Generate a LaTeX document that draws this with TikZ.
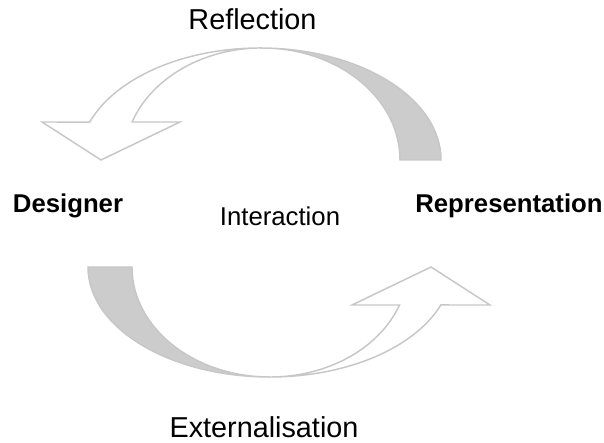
\documentclass[tikz,border=0pt]{standalone}
\usepackage{fontspec}
\setmainfont{Liberation Sans}
\begin{document}
\begin{tikzpicture}[x=0.75pt,y=0.75pt,
  band/.style={draw=black!22,line width=1.1pt,line join=miter,fill=black!20},
  front/.style={draw=black!22,line width=1.1pt,line join=miter,fill=white},
  lbl/.style={inner sep=0pt,anchor=base,text=black},
  bigfont/.style={font=\fontsize{21.6}{24}\selectfont},
  midfont/.style={font=\fontsize{19.3}{22}\selectfont}]
\useasboundingbox (0,0) rectangle (604,443);

% upper curved arrow: shaded back band, then the white arrow body
\path[band] (441,283) arc[start angle=0,end angle=90,x radius=181,y radius=112]
  -- (262,395) arc[start angle=90,end angle=0,x radius=138,y radius=112] -- cycle;
\path[front] (260,395) arc[start angle=90,end angle=160.2,x radius=181,y radius=112]
  -- (42,321) -- (101,283) -- (180,321) -- (132.1,321)
  arc[start angle=160.2,end angle=90,x radius=138,y radius=112] -- cycle;

% lower curved arrow
\path[band] (88,176) arc[start angle=180,end angle=270,x radius=182,y radius=110]
  -- (270,66) arc[start angle=270,end angle=180,x radius=138,y radius=110] -- cycle;
\path[front] (270,66) arc[start angle=270,end angle=339.8,x radius=182,y radius=110]
  -- (490,138) -- (431,176) -- (352,138) -- (399.5,138)
  arc[start angle=339.8,end angle=270,x radius=138,y radius=110] -- cycle;

% labels
\node[lbl,bigfont] (refl) at (252.5,413) {Reflection};
\node[lbl,bigfont] (ext) at (264,5) {Externalisation};
\node[lbl,midfont] (inter) at (280,217) {Interaction};
\node[lbl,midfont,font=\fontsize{19.3}{22}\selectfont\bfseries] (des) at (68,230) {Designer};
\node[lbl,midfont,font=\fontsize{19.3}{22}\selectfont\bfseries] (rep) at (509,230) {Representation};
\end{tikzpicture}
\end{document}
